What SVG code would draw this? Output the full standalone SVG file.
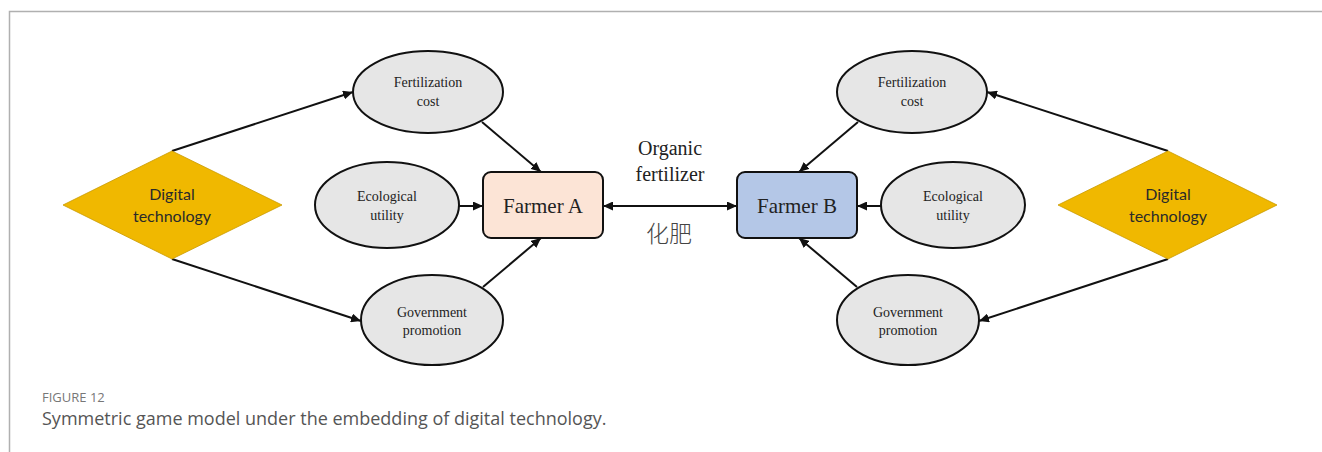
<svg xmlns="http://www.w3.org/2000/svg" width="1322" height="452" viewBox="0 0 1322 452">
  <style>
    .frame { stroke: #b0b0b0; stroke-width: 1.5; fill: none; }
    .diamond { fill: #F0B800; stroke: #C99A00; stroke-width: 0.8; }
    .dtext { font-family: Lato, "Liberation Sans", sans-serif; font-size: 16px; fill: #2a2a2a; text-anchor: middle; }
    .ell { fill: #E6E6E6; stroke: #111; stroke-width: 2; }
    .etext { font-family: "Liberation Serif", serif; font-size: 14px; fill: #222; text-anchor: middle; }
    .boxA { fill: #FCE4D6; stroke: #111; stroke-width: 2; }
    .boxB { fill: #B4C7E7; stroke: #111; stroke-width: 2; }
    .btext { font-family: "Liberation Serif", serif; font-size: 21px; fill: #222; text-anchor: middle; }
    .conn { stroke: #111; stroke-width: 2; fill: none; marker-end: url(#arrow); }
    .label { font-family: "Liberation Serif", serif; font-size: 20px; fill: #222; text-anchor: middle; }
    .cjk { font-family: "Noto Sans CJK SC", sans-serif; font-size: 23px; font-weight: 300; fill: #444; text-anchor: middle; }
    .cap1 { font-family: "Open Sans", sans-serif; font-size: 13px; fill: #777; }
    .cap2 { font-family: "Open Sans", sans-serif; font-size: 18px; fill: #555; }
  </style>
  <defs>
    <marker id="arrow" markerUnits="userSpaceOnUse" markerWidth="11" markerHeight="9" refX="10" refY="4.5" orient="auto">
      <path d="M0,0 L10,4.5 L0,9 Z" fill="#111"/>
    </marker>
    <marker id="arrowStart" markerUnits="userSpaceOnUse" markerWidth="11" markerHeight="9" refX="0" refY="4.5" orient="auto">
      <path d="M10,0 L0,4.5 L10,9 Z" fill="#111"/>
    </marker>
  </defs>

  <rect width="1322" height="452" fill="#ffffff"/>
  <path class="frame" d="M9.5,452 L9.5,11.5 L1322,11.5"/>

  <g id="connectors">
    <line class="conn" x1="172" y1="151" x2="353" y2="92"/>
    <line class="conn" x1="482" y1="122" x2="541" y2="172"/>
    <line class="conn" x1="459" y1="206" x2="483" y2="206"/>
    <line class="conn" x1="483" y1="287" x2="541" y2="238"/>
    <line class="conn" x1="172" y1="259" x2="361" y2="321"/>
    <line stroke="#111" stroke-width="2" x1="603" y1="206" x2="737" y2="206" marker-start="url(#arrowStart)" marker-end="url(#arrow)"/>
    <line class="conn" x1="1168" y1="151" x2="987" y2="92"/>
    <line class="conn" x1="858" y1="122" x2="799" y2="172"/>
    <line class="conn" x1="881" y1="206" x2="857" y2="206"/>
    <line class="conn" x1="857" y1="287" x2="799" y2="238"/>
    <line class="conn" x1="1168" y1="259" x2="979" y2="321"/>
  </g>

  <g id="digital-left">
    <polygon class="diamond" points="63,205 172,151 282,205 172,259"/>
    <text class="dtext" x="172" y="200">Digital</text>
    <text class="dtext" x="172" y="222">technology</text>
  </g>
  <g id="fert-cost-left">
    <ellipse class="ell" cx="428" cy="92" rx="75" ry="41"/>
    <text class="etext" x="428" y="87">Fertilization</text>
    <text class="etext" x="428" y="106">cost</text>
  </g>
  <g id="eco-left">
    <ellipse class="ell" cx="387" cy="205" rx="72" ry="43"/>
    <text class="etext" x="387" y="201">Ecological</text>
    <text class="etext" x="387" y="220">utility</text>
  </g>
  <g id="gov-left">
    <ellipse class="ell" cx="432" cy="320" rx="71" ry="45"/>
    <text class="etext" x="432" y="317">Government</text>
    <text class="etext" x="432" y="335">promotion</text>
  </g>
  <g id="farmer-a">
    <rect class="boxA" x="483" y="172" width="120" height="66" rx="8"/>
    <text class="btext" x="543" y="213">Farmer A</text>
  </g>

  <g id="organic-label">
    <text class="label" x="670" y="155">Organic</text>
    <text class="label" x="670" y="181">fertilizer</text>
    <text class="cjk" x="669" y="242">化肥</text>
  </g>

  <g id="farmer-b">
    <rect class="boxB" x="737" y="172" width="120" height="66" rx="8"/>
    <text class="btext" x="797" y="213">Farmer B</text>
  </g>
  <g id="fert-cost-right">
    <ellipse class="ell" cx="912" cy="92" rx="75" ry="41"/>
    <text class="etext" x="912" y="87">Fertilization</text>
    <text class="etext" x="912" y="106">cost</text>
  </g>
  <g id="eco-right">
    <ellipse class="ell" cx="953" cy="205" rx="72" ry="43"/>
    <text class="etext" x="953" y="201">Ecological</text>
    <text class="etext" x="953" y="220">utility</text>
  </g>
  <g id="gov-right">
    <ellipse class="ell" cx="908" cy="320" rx="71" ry="45"/>
    <text class="etext" x="908" y="317">Government</text>
    <text class="etext" x="908" y="335">promotion</text>
  </g>
  <g id="digital-right">
    <polygon class="diamond" points="1058,205 1168,151 1277,205 1168,259"/>
    <text class="dtext" x="1168" y="200">Digital</text>
    <text class="dtext" x="1168" y="222">technology</text>
  </g>

  <g id="caption">
    <text class="cap1" x="42" y="402">FIGURE 12</text>
    <text class="cap2" x="42" y="425">Symmetric game model under the embedding of digital technology.</text>
  </g>
</svg>
